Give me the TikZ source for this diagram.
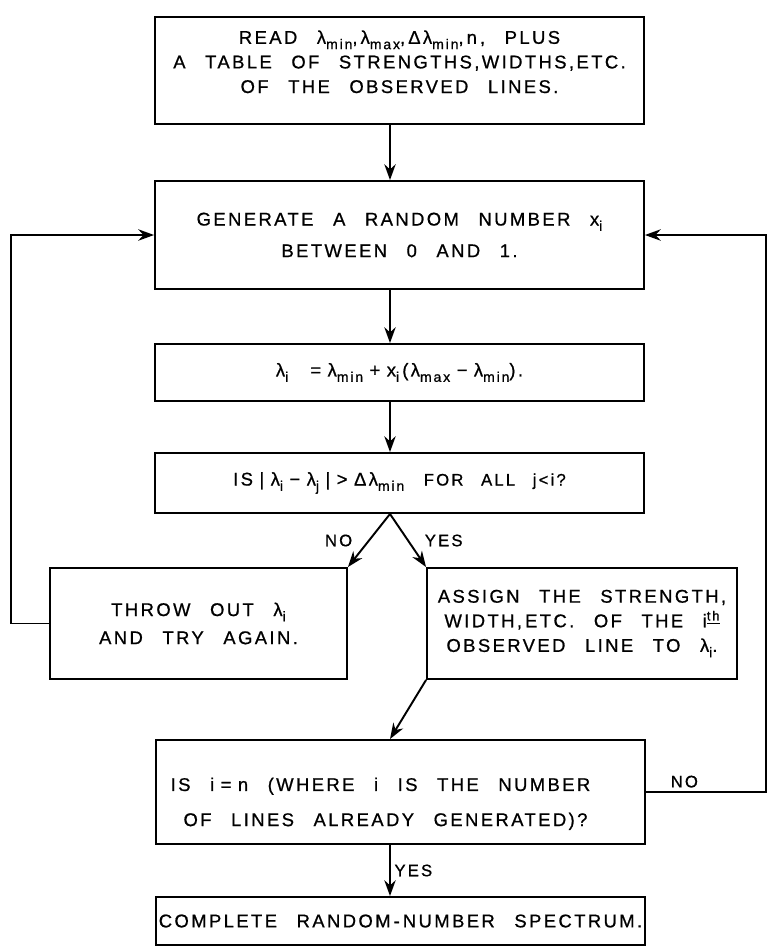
\documentclass[tikz,border=0pt]{standalone}
\usepackage{fontspec}
\setmainfont{Liberation Sans}[LetterSpace=13,WordSpace=2.6,FakeBold=0.8]
\usetikzlibrary{arrows.meta}
\newcommand\lo[1]{\raisebox{-0.55ex}{\fontsize{8}{8}\selectfont #1}}
\newcommand\ith{i\raisebox{0.7ex}{\fontsize{7.5}{8}\selectfont\underline{th}}}
\newcommand\gap{\hspace{0.35em}}
\tikzset{
	boxstyle/.style={rectangle, draw=black, line width=1.1pt, align=center, inner sep=0pt, font=\fontsize{10.5}{14}\selectfont},
	linkstyle/.style={line width=1.1pt, -{Stealth[length=9pt,width=6.5pt]}},
	tagstyle/.style={font=\fontsize{9.5}{10}\selectfont, inner sep=2pt}
}

\begin{document}
\begin{tikzpicture}[x=0.02cm, y=-0.02cm]
	\useasboundingbox (0,0) rectangle (768,951);
	\coordinate (spine) at (390,0);
	\coordinate (lloop) at (11,0);
	\coordinate (rloop) at (766,0);
	\node[boxstyle, minimum width=9.78cm, minimum height=2.14cm] (read) at (399.5,70.5) {READ λ\lo{min},\,λ\lo{max},\,Δλ\lo{min},\,n\,, PLUS\\A TABLE OF STRENGTHS,WIDTHS,ETC.\\OF THE OBSERVED LINES.\rule[-10pt]{0pt}{1pt}};
	\node[boxstyle, minimum width=9.78cm, minimum height=2.16cm] (gen) at (399.5,235) {GENERATE A RANDOM NUMBER x\lo{i}\\[4pt]BETWEEN 0 AND 1.};
	\node[boxstyle, minimum width=9.78cm, minimum height=1.14cm] (lam) at (399.5,372.5) {λ\lo{i}\hspace{1.2em}=\gap λ\lo{min}\gap +\gap x\lo{i}\,(λ\lo{max}\gap −\gap λ\lo{min}).};
	\node[boxstyle, minimum width=9.78cm, minimum height=1.2cm] (test) at (399.5,483) {IS\gap |\gap λ\lo{i}\gap −\gap λ\lo{j}\gap |\gap >\gap Δλ\lo{min} {\fontsize{9.5}{14}\selectfont FOR ALL j<i?}};
	\node[boxstyle, minimum width=5.94cm, minimum height=2.22cm] (throw) at (198.5,623.5) {THROW OUT λ\lo{i}\\[2pt]AND TRY AGAIN.};
	\node[boxstyle, minimum width=6.2cm, minimum height=2.22cm] (assign) at (582,623.5) {ASSIGN THE STRENGTH,\\WIDTH,\,ETC. OF THE \ith\\OBSERVED LINE TO λ\lo{i}.};
	\node[boxstyle, minimum width=9.78cm, minimum height=2.08cm] (check) at (400.5,792) {\rule{0pt}{21pt}IS i\gap =\gap n (WHERE i IS THE NUMBER\hspace*{0.8cm}\\[6pt]OF LINES ALREADY GENERATED)?\hspace*{0.6cm}};
	\node[boxstyle, minimum width=9.78cm, minimum height=0.96cm] (spec) at (400.5,921) {COMPLETE RANDOM\,-\,NUMBER SPECTRUM.};
	\draw[linkstyle] (read.south -| spine) -- (gen.north -| spine);
	\draw[linkstyle] (gen.south -| spine) -- (lam.north -| spine);
	\draw[linkstyle] (lam.south -| spine) -- (test.north -| spine);
	\draw[linkstyle] (test.south -| spine) -- node[tagstyle, midway, left=7pt] {NO} (throw.north east);
	\draw[linkstyle] (test.south -| spine) -- node[tagstyle, midway, right=7pt] {YES} (assign.north west);
	\draw[linkstyle] (throw.west) -- (throw.west -| lloop) |- (gen.west);
	\draw[linkstyle] (assign.south west) -- (check.north -| spine);
	\draw[linkstyle] (check.east) -- node[tagstyle, pos=0.32, above=0pt] {NO} (check.east -| rloop) |- (gen.east);
	\draw[linkstyle] (check.south -| spine) -- node[tagstyle, midway, right] {YES} (spec.north -| spine);
\end{tikzpicture}
\end{document}
